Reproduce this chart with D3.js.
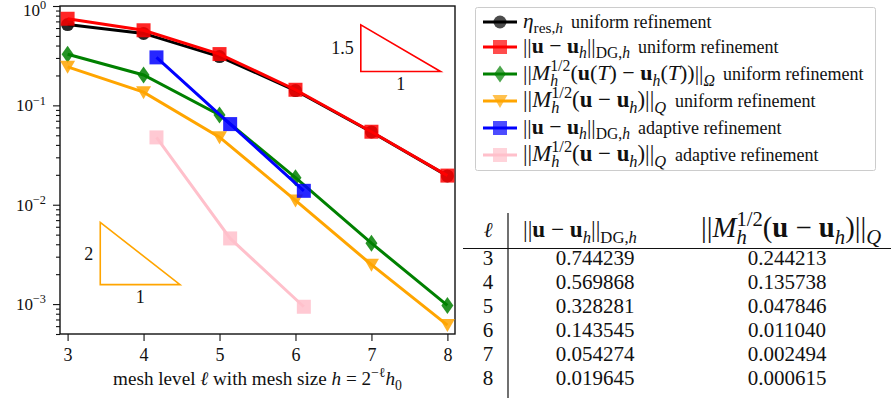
<!DOCTYPE html>
<html lang="en">
<head>
<meta charset="utf-8">
<title>Convergence plot</title>
<script src="https://d3js.org/d3.v7.min.js"></script>
<style>
  body { margin: 0; background: #fff; }
  svg text { font-family: "Liberation Serif", "Times New Roman", serif; fill: #111; }
</style>
</head>
<body>
<div id="viz"></div>
<script>
// values
var levels = [3, 4, 5, 6, 7, 8];
var etaRes = [0.65, 0.53, 0.31, 0.141, 0.054, 0.0195];
var dgUniform = [0.744239, 0.569868, 0.328281, 0.143545, 0.054274, 0.019645];
var mTUniform = [0.327, 0.202, 0.080, 0.0187, 0.0041, 0.00097];
var mQUniform = [0.244213, 0.135738, 0.047846, 0.011040, 0.002494, 0.000615];
var adaptLevels = [4.17, 5.14, 6.11];
var dgAdaptive = [0.304, 0.0648, 0.0138];
var mQAdaptive = [0.0476, 0.00458, 0.00094];
var xTicks = [3, 4, 5, 6, 7, 8];
var yTicks = [1e-3, 1e-2, 1e-1, 1];
var yTickExp = ["−3", "−2", "−1", "0"];

// slope triangles (data coords)
var slopes = [
  {x0: 6.86, x1: 7.91, lo: 0.219, hi: 0.645, rise: "1.5", run: "1", color: "red"},
  {x0: 3.43, x1: 4.48, lo: 0.00157, hi: 0.00664, rise: "2", run: "1", color: "orange"}
];

// pieces of math labels: [text, flags, dx in em]  flags: i italic, b bold, _ sub, ^ sup
var normDG = [["||"], ["u", "b"], [" − "], ["u", "b"], ["h", "_i"], ["||"], ["DG,", "_"], ["h", "_i"]];
var normMQ = [["||"], ["M", "i"], ["h", "_i"], ["1/2", "^", -0.5], ["("], ["u", "b"], [" − "], ["u", "b"], ["h", "_i"], [")||"], ["Q", "_i"]];
var normMT = [["||"], ["M", "i"], ["h", "_i"], ["1/2", "^", -0.5], ["("], ["u", "b"], ["("], ["T", "i"], [") − "], ["u", "b"], ["h", "_i"], ["("], ["T", "i"], ["))||"], ["Ω", "_i"]];
var eta = [["η", "i"], ["res,", "_"], ["h", "_i"]];

var series = [
  {x: levels, y: etaRes, color: "black", marker: "circle", math: eta, words: "uniform refinement"},
  {x: levels, y: dgUniform, color: "red", marker: "square", math: normDG, words: "uniform refinement"},
  {x: levels, y: mTUniform, color: "green", marker: "diamond", math: normMT, words: "uniform refinement"},
  {x: levels, y: mQUniform, color: "orange", marker: "tri", math: normMQ, words: "uniform refinement"},
  {x: adaptLevels, y: dgAdaptive, color: "blue", marker: "square", math: normDG, words: "adaptive refinement"},
  {x: adaptLevels, y: mQAdaptive, color: "pink", marker: "square", math: normMQ, words: "adaptive refinement"}
];

var W = 891, H = 405;
var plot = {left: 60, right: 455, top: 6, bottom: 334};

var svg = d3.select("#viz").append("svg")
  .attr("width", W).attr("height", H);

var x = d3.scaleLinear().domain([2.9, 8.1]).range([plot.left, plot.right]);
var y = d3.scaleLog().domain([5e-4, 1]).range([plot.bottom, plot.top]);

function rich(text, parts, fs) {
  var shift = 0;
  parts.forEach(function(p) {
    var f = p[1] || "";
    var target = f.indexOf("_") >= 0 ? 0.25 * fs : (f.indexOf("^") >= 0 ? -0.4 * fs : 0);
    var size = target ? 0.72 * fs : fs;
    var ts = text.append("tspan").text(p[0])
      .attr("dy", target - shift)
      .style("font-size", size + "px");
    if (f.indexOf("i") >= 0) ts.style("font-style", "italic");
    if (f.indexOf("b") >= 0) ts.style("font-weight", "bold");
    if (p[2]) ts.attr("dx", p[2] * size);
    shift = target;
  });
  return text;
}

// build, then rescale so the label is `width` px wide
function fitRich(text, parts, fs, width) {
  rich(text, parts, fs);
  var w = text.node().getBBox().width;
  text.selectAll("tspan").remove();
  rich(text, parts, fs * width / w);
  return text;
}

function marker(g, type, cx, cy, color) {
  var p;
  if (type == "circle") {
    return g.append("circle").attr("cx", cx).attr("cy", cy).attr("r", 6.5)
      .attr("fill", color).attr("fill-opacity", 0.85);
  }
  if (type == "square") p = [[-7, -7], [7, -7], [7, 7], [-7, 7]];
  if (type == "diamond") p = [[0, -8.5], [6, 0], [0, 8.5], [-6, 0]];
  if (type == "tri") p = [[-7.5, -6], [7.5, -6], [0, 7]];
  return g.append("path")
    .attr("d", "M" + p.map(function(q) { return (cx + q[0]) + "," + (cy + q[1]); }).join("L") + "Z")
    .attr("fill", color).attr("fill-opacity", 0.85);
}

// axes
var yMinor = [];
[-4, -3, -2, -1].forEach(function(e) {
  for (var k = 2; k <= 9; k++) {
    var v = k * Math.pow(10, e);
    if (v >= 5e-4 && v < 1) yMinor.push(v);
  }
});

svg.append("g")
  .attr("transform", "translate(" + plot.left + ",0)")
  .call(d3.axisLeft(y).tickValues(yMinor).tickSize(4).tickFormat(""))
  .call(function(g) { g.select(".domain").remove(); });

var yAxis = svg.append("g")
  .attr("transform", "translate(" + plot.left + ",0)")
  .call(d3.axisLeft(y).tickValues(yTicks).tickSize(7).tickFormat(""));
yAxis.select(".domain").remove();

yTicks.forEach(function(v, i) {
  var t = svg.append("text")
    .attr("x", 46).attr("y", Math.max(y(v) + 6, 16))
    .attr("text-anchor", "end");
  rich(t, [["10"], [yTickExp[i], "^"]], 17);
});

var xAxis = svg.append("g")
  .attr("transform", "translate(0," + plot.bottom + ")")
  .call(d3.axisBottom(x).tickValues(xTicks).tickSize(7).tickPadding(7).tickFormat(d3.format("d")));
xAxis.select(".domain").remove();
xAxis.selectAll("text").style("font-size", "18px").style("font-family", "Liberation Serif, serif").attr("fill", "#111");
svg.selectAll(".tick line").attr("stroke", "#111").attr("stroke-width", 1.1);

// frame
svg.append("rect")
  .attr("x", plot.left).attr("y", plot.top)
  .attr("width", plot.right - plot.left).attr("height", plot.bottom - plot.top)
  .attr("fill", "none").attr("stroke", "#111").attr("stroke-width", 1.4);

var xl = svg.append("text")
  .attr("x", (plot.left + plot.right) / 2).attr("y", 385)
  .attr("text-anchor", "middle");
fitRich(xl, [["mesh level "], ["ℓ", "i"], [" with mesh size "], ["h", "i"], [" = 2"], ["−ℓ", "^"], ["h", "i"], ["0", "_"]], 17, 289);

// slope triangles
slopes.forEach(function(s) {
  svg.append("path")
    .attr("d", "M" + x(s.x0) + "," + y(s.hi) + "L" + x(s.x0) + "," + y(s.lo) + "L" + x(s.x1) + "," + y(s.lo) + "Z")
    .attr("fill", "none").attr("stroke", s.color).attr("stroke-width", 1.6);
  svg.append("text")
    .attr("x", x(s.x0) - 7).attr("y", (y(s.hi) + y(s.lo)) / 2 + 6)
    .attr("text-anchor", "end").style("font-size", "18px").text(s.rise);
  svg.append("text")
    .attr("x", (x(s.x0) + x(s.x1)) / 2).attr("y", y(s.lo) + 18)
    .attr("text-anchor", "middle").style("font-size", "18px").text(s.run);
});

// data
var line = d3.line().x(function(d) { return x(d[0]); }).y(function(d) { return y(d[1]); });
series.forEach(function(s) {
  var pts = s.x.map(function(v, i) { return [v, s.y[i]]; });
  var g = svg.append("g");
  g.append("path").datum(pts).attr("d", line)
    .attr("fill", "none").attr("stroke", s.color).attr("stroke-width", 3);
  pts.forEach(function(d) { marker(g, s.marker, x(d[0]), y(d[1]), s.color); });
});

// legend
var legendY = [22, 47, 74, 101, 128, 155];
var legendMathW = [40, 107, 192, 144, 107, 144];
svg.append("rect")
  .attr("x", 475.5).attr("y", 7.5).attr("width", 400).attr("height", 163).attr("rx", 2)
  .attr("fill", "#fff").attr("stroke", "#ccc").attr("stroke-width", 1);
series.forEach(function(s, i) {
  var ly = legendY[i];
  var g = svg.append("g");
  g.append("line").attr("x1", 483).attr("x2", 517).attr("y1", ly).attr("y2", ly)
    .attr("stroke", s.color).attr("stroke-width", 3);
  marker(g, s.marker, 500, ly, s.color).attr("fill-opacity", 0.7);
  fitRich(g.append("text").attr("x", 523).attr("y", ly + 6), s.math, 18, legendMathW[i]);
  g.append("text").attr("x", 523 + legendMathW[i] + 8).attr("y", ly + 6)
    .style("font-size", "18px").text(s.words);
});

// table
var tb = svg.append("g");
tb.append("line").attr("x1", 463).attr("x2", 891).attr("y1", 248.5).attr("y2", 248.5)
  .attr("stroke", "#111").attr("stroke-width", 1.2);
tb.append("line").attr("x1", 508).attr("x2", 508).attr("y1", 213).attr("y2", 398)
  .attr("stroke", "#111").attr("stroke-width", 1.2);
rich(tb.append("text").attr("x", 488).attr("y", 237).attr("text-anchor", "middle"), [["ℓ", "i"]], 21);
fitRich(tb.append("text").attr("x", 523).attr("y", 237), normDG, 20, 114);
fitRich(tb.append("text").attr("x", 701).attr("y", 237), normMQ, 20, 181);
levels.forEach(function(l, i) {
  var by = 265 + i * 24;
  tb.append("text").attr("x", 488).attr("y", by).attr("text-anchor", "middle").style("font-size", "21px").text(l);
  tb.append("text").attr("x", 595).attr("y", by).attr("text-anchor", "middle").style("font-size", "21px").text(dgUniform[i].toFixed(6));
  tb.append("text").attr("x", 787).attr("y", by).attr("text-anchor", "middle").style("font-size", "21px").text(mQUniform[i].toFixed(6));
});
</script>
</body>
</html>
